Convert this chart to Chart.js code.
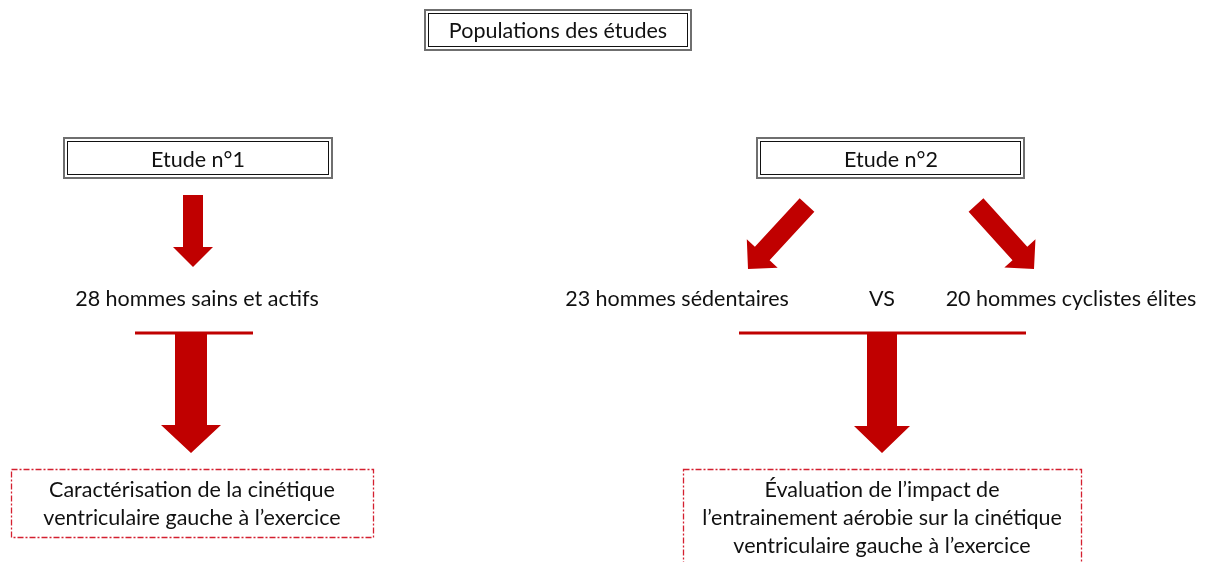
<!DOCTYPE html>
<html>
<head>
<meta charset="utf-8">
<script src="https://cdn.jsdelivr.net/npm/chart.js@4/dist/chart.umd.min.js"></script>
<style>
html,body{margin:0;padding:0;background:#fff;}
#wrap{width:1205px;height:562px;}
</style>
</head>
<body>
<div id="wrap"><canvas id="c" width="1205" height="562"></canvas></div>
<script>
// ---- diagram content (texts) ----
const titleLabels = ["Populations des études"];
const studyLabels = ["Etude n°1", "Etude n°2"];
const groupLabels = ["28 hommes sains et actifs", "23 hommes sédentaires", "VS", "20 hommes cyclistes élites"];
const outcomeLabels = [
  ["Caractérisation de la cinétique", "ventriculaire gauche à l’exercice"],
  ["Évaluation de l’impact de", "l’entrainement aérobie sur la cinétique", "ventriculaire gauche à l’exercice"]
];

// ---- layout (diagram coordinate space, mapped through the chart's scales) ----
const layout = {
  titleBox: {x0: 425, y0: 10, x1: 691, y1: 50},
  studyBoxes: [{x0: 64, y0: 138, x1: 332, y1: 178}, {x0: 757, y0: 138, x1: 1024, y1: 178}],
  groupPos: [{x: 197, y: 299}, {x: 677, y: 299}, {x: 882, y: 299}, {x: 1071, y: 299}],
  outcomeBoxes: [{x0: 11, y0: 469, x1: 373, y1: 537, cx: 192, lines: [490, 518]},
                 {x0: 683, y0: 469, x1: 1081, y1: 600, cx: 882, lines: [490, 518, 546]}],
  // arrows: tail centre -> tip, shaft width, head width, head length
  arrows: [
    {tx: 193, ty: 195, hx: 193, hy: 267, sw: 20, hw: 40, hl: 20},
    {tx: 807, ty: 205, hx: 748, hy: 269, sw: 20, hw: 42, hl: 21},
    {tx: 976, ty: 205, hx: 1034, hy: 269, sw: 20, hw: 42, hl: 21},
    {tx: 191, ty: 333, hx: 191, hy: 453, sw: 32, hw: 60, hl: 28},
    {tx: 882, ty: 333, hx: 882, hy: 453, sw: 30, hw: 56, hl: 27}
  ],
  bars: [{x0: 135, x1: 253, y: 333}, {x0: 739, x1: 1026, y: 333}]
};

const RED = '#C00000';
const FONT = '21.5px Lato, "Open Sans", sans-serif';

const diagramPlugin = {
  id: 'diagram',
  afterDraw(chart) {
    const ctx = chart.ctx;
    const xs = chart.scales.x, ys = chart.scales.y;
    const X = v => Math.round(xs.getPixelForValue(v));
    const Y = v => Math.round(ys.getPixelForValue(v));
    ctx.save();

    function doubleBox(b) {
      const x0 = X(b.x0), y0 = Y(b.y0), x1 = X(b.x1), y1 = Y(b.y1);
      ctx.setLineDash([]);
      ctx.strokeStyle = '#6f6f6f'; ctx.lineWidth = 2;
      ctx.strokeRect(x0, y0, x1 - x0, y1 - y0);
      ctx.strokeStyle = '#111'; ctx.lineWidth = 1;
      ctx.strokeRect(x0 + 3.5, y0 + 3.5, x1 - x0 - 7, y1 - y0 - 7);
    }
    function text(t, x, y) {
      ctx.fillStyle = '#111'; ctx.font = FONT;
      ctx.textAlign = 'center'; ctx.textBaseline = 'middle';
      ctx.fillText(t, X(x), Y(y));
    }
    function arrow(a) {
      const tx = X(a.tx), ty = Y(a.ty), hx = X(a.hx), hy = Y(a.hy);
      const dx = hx - tx, dy = hy - ty, L = Math.hypot(dx, dy);
      const ux = dx / L, uy = dy / L, px = -uy, py = ux;
      const s = a.sw / 2, h = a.hw / 2, bl = L - a.hl;
      const pt = (along, side) => [tx + ux * along + px * side, ty + uy * along + py * side];
      const pts = [pt(0, -s), pt(bl, -s), pt(bl, -h), pt(L, 0), pt(bl, h), pt(bl, s), pt(0, s)];
      ctx.fillStyle = RED; ctx.beginPath();
      pts.forEach((p, i) => i ? ctx.lineTo(p[0], p[1]) : ctx.moveTo(p[0], p[1]));
      ctx.closePath(); ctx.fill();
    }

    doubleBox(layout.titleBox);
    text(titleLabels[0], (layout.titleBox.x0 + layout.titleBox.x1) / 2, 31);
    layout.studyBoxes.forEach((b, i) => { doubleBox(b); text(studyLabels[i], (b.x0 + b.x1) / 2, 160); });
    groupLabels.forEach((t, i) => text(t, layout.groupPos[i].x, layout.groupPos[i].y));

    ctx.strokeStyle = RED; ctx.lineWidth = 3;
    layout.bars.forEach(b => { ctx.beginPath(); ctx.moveTo(X(b.x0), Y(b.y)); ctx.lineTo(X(b.x1), Y(b.y)); ctx.stroke(); });
    layout.arrows.forEach(arrow);

    layout.outcomeBoxes.forEach((b, i) => {
      ctx.strokeStyle = '#d42030'; ctx.lineWidth = 1.3; ctx.setLineDash([6, 2, 2, 2]);
      ctx.strokeRect(X(b.x0) + 0.5, Y(b.y0) + 0.5, X(b.x1) - X(b.x0), Y(b.y1) - Y(b.y0));
      ctx.setLineDash([]);
      outcomeLabels[i].forEach((t, j) => text(t, b.cx, b.lines[j]));
    });
    ctx.restore();
  }
};

new Chart(document.getElementById('c'), {
  type: 'scatter',
  data: { datasets: [{ data: [], pointRadius: 0 }] },
  options: {
    responsive: false,
    animation: false,
    layout: { padding: 0 },
    plugins: { legend: { display: false }, tooltip: { enabled: false } },
    scales: {
      x: { type: 'linear', min: 0, max: 1205, display: false },
      y: { type: 'linear', min: 0, max: 562, reverse: true, display: false }
    }
  },
  plugins: [diagramPlugin]
});
</script>
</body>
</html>
